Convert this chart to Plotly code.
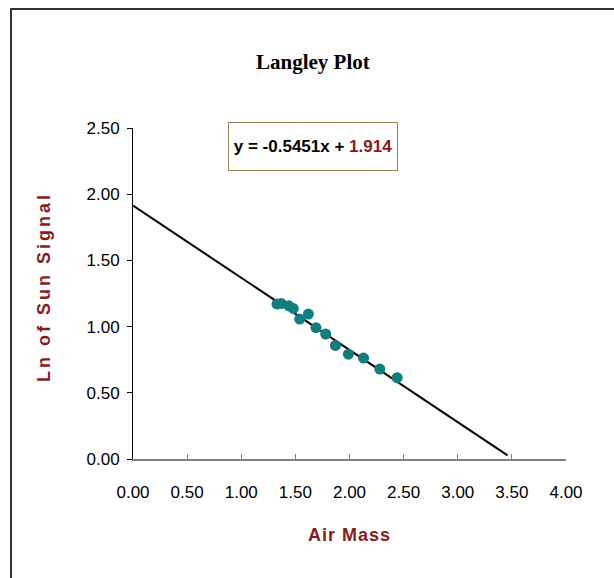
import plotly.graph_objects as go

# Data
air_mass = [1.33, 1.37, 1.44, 1.48, 1.54, 1.62, 1.69, 1.78, 1.87, 1.99, 2.13, 2.28, 2.44]
ln_signal = [1.17, 1.175, 1.157, 1.137, 1.057, 1.095, 0.992, 0.944, 0.858, 0.792, 0.762, 0.679, 0.614]

slope = -0.5451
intercept = 1.914
trend_x = [0.0, 3.46]
trend_y = [intercept + slope * v for v in trend_x]

x_ticks = [0, 0.5, 1.0, 1.5, 2.0, 2.5, 3.0, 3.5, 4.0]
y_ticks = [0, 0.5, 1.0, 1.5, 2.0, 2.5]

DARK_RED = "#8B1A1A"
SANS = "Liberation Sans, Arial, sans-serif"

fig = go.Figure()
fig.add_trace(go.Scatter(x=trend_x, y=trend_y, mode="lines",
                         line=dict(color="black", width=2), hoverinfo="skip"))
fig.add_trace(go.Scatter(x=air_mass, y=ln_signal, mode="markers",
                         marker=dict(color="#107E7D", size=11, line=dict(width=0))))

W, H = 614, 578
L, R, T, B = 133, 48, 128, 119
pw, ph = W - L - R, H - T - B

def px_x(p):
    return (p - L) / pw

def px_y(p):
    return (H - B - p) / ph

fig.update_layout(
    width=W, height=H,
    margin=dict(l=L, r=R, t=T, b=B),
    paper_bgcolor="white", plot_bgcolor="white",
    showlegend=False,
    xaxis=dict(range=[0, 4], tickvals=x_ticks, tickformat=".2f",
               showgrid=False, zeroline=False,
               showline=True, linecolor="#808080", linewidth=2,
               ticks="inside", ticklen=5, tickcolor="#808080", tickwidth=1,
               ticklabelstandoff=17,
               tickfont=dict(family=SANS, size=17, color="black")),
    yaxis=dict(range=[0, 2.5], tickvals=y_ticks, tickformat=".2f",
               showgrid=False, zeroline=False,
               showline=True, linecolor="black", linewidth=1,
               ticks="outside", ticklen=5, tickcolor="black", tickwidth=1,
               ticklabelstandoff=4,
               tickfont=dict(family=SANS, size=17, color="black")),
    shapes=[
        dict(type="line", xref="paper", yref="paper",
             x0=px_x(10), x1=px_x(614), y0=px_y(9), y1=px_y(9),
             line=dict(color="#333333", width=2)),
        dict(type="line", xref="paper", yref="paper",
             x0=px_x(11), x1=px_x(11), y0=px_y(9), y1=px_y(578),
             line=dict(color="#333333", width=2)),
    ],
    annotations=[
        dict(text="<b>Langley Plot</b>", xref="paper", yref="paper",
             x=px_x(313), y=px_y(62), xanchor="center", yanchor="middle",
             showarrow=False,
             font=dict(family="Liberation Serif, Times New Roman, serif", size=21, color="black")),
        dict(text="<b>y = -0.5451x + <span style='color:%s'>1.914</span></b>" % DARK_RED,
             xref="paper", yref="paper", x=px_x(313), y=px_y(146.5),
             xanchor="center", yanchor="middle",
             showarrow=False, width=166, height=45, borderpad=1,
             bordercolor="#9C8255", borderwidth=1, bgcolor="white",
             font=dict(family=SANS, size=17, color="black")),
        dict(text="<b><span style='letter-spacing:1px'>Air Mass</span></b>",
             xref="paper", yref="paper",
             x=px_x(349), y=px_y(535), xanchor="center", yanchor="middle",
             showarrow=False,
             font=dict(family=SANS, size=18, color=DARK_RED)),
        dict(text="<b><span style='letter-spacing:3px'>Ln of Sun Signal</span></b>",
             xref="paper", yref="paper",
             x=px_x(44), y=px_y(287), xanchor="center", yanchor="middle",
             showarrow=False, textangle=-90,
             font=dict(family=SANS, size=18, color=DARK_RED)),
    ],
)

fig.write_html("out.html")
